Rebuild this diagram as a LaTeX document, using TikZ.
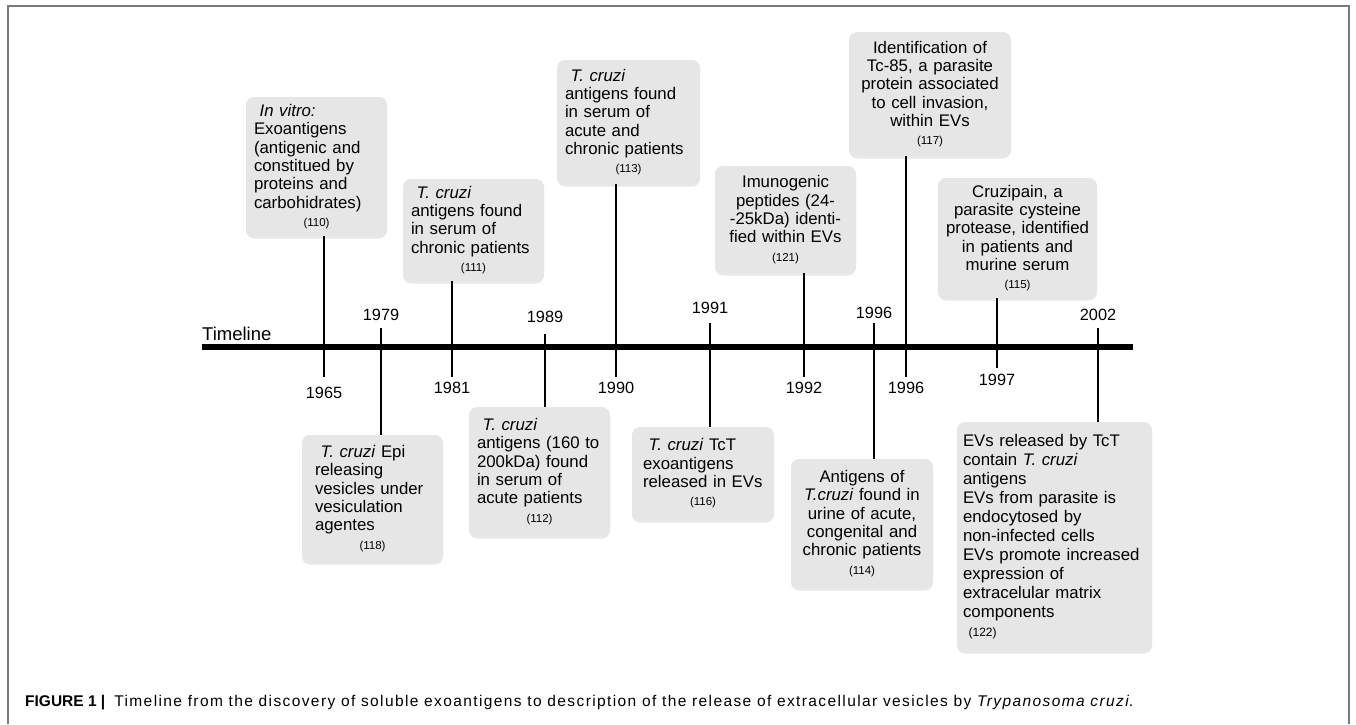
\documentclass[tikz,border=0pt]{standalone}
\usepackage{fontspec}
\setmainfont{Liberation Sans}
\usepackage{xcolor}
\usetikzlibrary{shadows}

\definecolor{boxgray}{HTML}{E6E6E6}
\definecolor{framegray}{HTML}{7A7A7A}

\newcommand\tcruzi{\textit{T. cruzi}}
\newcommand\evref[1]{\par\centering{\fontsize{11.5}{17}\selectfont(#1)}\par}

\tikzset{
  evbox/.style={fill=boxgray, rounded corners=8pt, inner xsep=8pt, inner ysep=4pt,
    drop shadow={shadow xshift=0pt, shadow yshift=-2.5pt, opacity=0.18},
    font=\fontsize{16.8}{18.3}\selectfont},
  tick/.style={line width=2.7pt},
  year/.style={font=\fontsize{16.3}{18}\selectfont, inner sep=0pt},
}

\begin{document}
\begin{tikzpicture}[x=1pt,y=-1pt]
\useasboundingbox (0,0) rectangle (1356,724);
\draw[framegray, line width=1.5pt] (8,724) -- (8,6) -- (1349,6) -- (1349,724);

% the timeline
\coordinate (tlstart) at (202,347);
\coordinate (tlend) at (1133,347);
\draw[line width=6.3pt] (tlstart) -- (tlend);
\node (tllabel) at (202,340) [anchor=base west, inner sep=0pt, font=\fontsize{18.5}{20}\selectfont] {Timeline};

% boxes above the line
\node (b110) at (316.5,166.5) [evbox, align=left, text width=125pt, minimum height=139pt]
  {\ \textit{In vitro:}\\Exoantigens\\(antigenic and\\constitued by\\proteins and\\carbohidrates)\evref{110}};
\node (b111) at (473.5,230) [evbox, align=left, text width=125pt, minimum height=102pt]
  {\ \tcruzi\\antigens found\\in serum of\\chronic patients\evref{111}};
\node (b113) at (628.5,122) [evbox, align=left, text width=127pt, minimum height=124pt]
  {\ \tcruzi\\antigens found\\in serum of\\acute and\\chronic patients\evref{113}};
\node (b121) at (785.5,219.5) [evbox, align=center, text width=125pt, minimum height=107pt]
  {Imunogenic\\peptides (24-\\-25kDa) identi-\\fied within EVs\evref{121}};
\node (b117) at (930,94) [evbox, align=center, text width=146pt, minimum height=124pt]
  {Identification of\\Tc-85, a parasite\\protein associated\\to cell invasion,\\within EVs\evref{117}};
\node (b115) at (1017.5,238) [evbox, align=center, text width=147pt, inner xsep=6pt, minimum height=120pt]
  {Cruzipain, a\\parasite cysteine\\protease, identified\\in patients and\\murine serum\evref{115}};

% boxes below the line
\node (b118) at (372.5,498.5) [evbox, align=left, text width=115pt, inner xsep=13pt, minimum height=127pt]
  {\ \tcruzi{} Epi\\releasing\\vesicles under\\vesiculation\\agentes\evref{118}};
\node (b112) at (539.5,471.5) [evbox, align=left, text width=125pt, minimum height=129pt]
  {\ \tcruzi\\antigens (160 to\\200kDa) found\\in serum of\\acute patients\evref{112}};
\node (b116) at (703,473.5) [evbox, align=left, text width=120pt, inner xsep=11pt, minimum height=93pt]
  {\ \tcruzi{} TcT\\exoantigens\\released in EVs\evref{116}};
\node (b114) at (862,523.5) [evbox, align=center, text width=126pt, minimum height=129pt]
  {Antigens of\\\textit{T.cruzi} found in\\urine of acute,\\congenital and\\chronic patients\evref{114}};
\node (b122) at (1054.5,536.5) [evbox, align=left, text width=183pt, inner xsep=6pt, minimum height=229pt,
  font=\fontsize{16.8}{19}\selectfont]
  {EVs released by TcT\\contain \tcruzi\\antigens\\EVs from parasite is\\endocytosed by\\non-infected cells\\EVs promote increased\\expression of\\extracelular matrix\\components\\{\fontsize{12}{19}\selectfont\ (122)}};

% ticks from boxes above
\coordinate (t1965) at (324,377);
\draw[tick] (t1965 |- b110.south) -- (t1965);
\node (y1965) at (324,393) [year] {1965};
\coordinate (t1981) at (452,377);
\draw[tick] (t1981 |- b111.south) -- (t1981);
\node (y1981) at (452,388) [year] {1981};
\coordinate (t1990) at (616,377);
\draw[tick] (t1990 |- b113.south) -- (t1990);
\node (y1990) at (616,388) [year] {1990};
\coordinate (t1992) at (804,377);
\draw[tick] (t1992 |- b121.south) -- (t1992);
\node (y1992) at (804,388) [year] {1992};
\coordinate (t1996b) at (906,377);
\draw[tick] (t1996b |- b117.south) -- (t1996b);
\node (y1996b) at (906,388) [year] {1996};
\coordinate (t1997) at (997,368);
\draw[tick] (t1997 |- b115.south) -- (t1997);
\node (y1997) at (997,380) [year] {1997};

% ticks to boxes below
\coordinate (t1979) at (381,328);
\draw[tick] (t1979) -- (t1979 |- b118.north);
\node (y1979) at (381,315) [year] {1979};
\coordinate (t1989) at (545,334);
\draw[tick] (t1989) -- (t1989 |- b112.north);
\node (y1989) at (545,317) [year] {1989};
\coordinate (t1991) at (710,323);
\draw[tick] (t1991) -- (t1991 |- b116.north);
\node (y1991) at (710,308) [year] {1991};
\coordinate (t1996a) at (874,323);
\draw[tick] (t1996a) -- (t1996a |- b114.north);
\node (y1996a) at (874,313) [year] {1996};
\coordinate (t2002) at (1098,328);
\draw[tick] (t2002) -- (t2002 |- b122.north);
\node (y2002) at (1098,315) [year] {2002};

\node (caption) at (25,706) [anchor=base west, inner sep=0pt, font=\fontsize{15.5}{18}\selectfont]
  {\textbf{FIGURE 1 |}\hspace{9pt}{\addfontfeatures{LetterSpace=9}Timeline from the discovery of soluble exoantigens to description of the release of extracellular vesicles by \textit{Trypanosoma cruzi}.}};
\end{tikzpicture}
\end{document}
